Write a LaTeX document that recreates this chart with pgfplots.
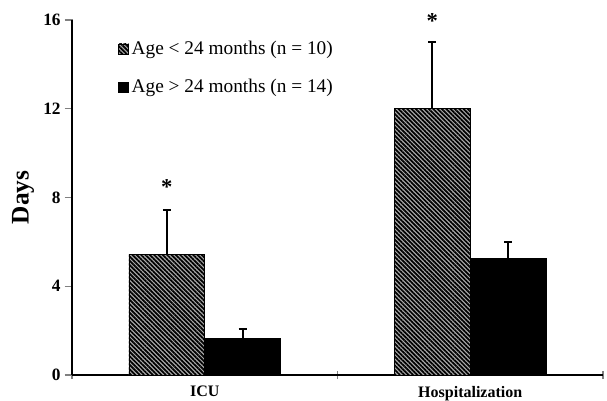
\documentclass[border=0pt]{standalone}
\usepackage{pgfplots}
\pgfplotsset{compat=1.18}
\usetikzlibrary{patterns.meta}
\usepackage{fontspec}
\setmainfont{Liberation Serif}

\begin{document}
\begin{tikzpicture}
\begin{axis}[
  scale only axis,
  width=398.25pt, height=266.25pt,
  ybar=0pt, bar width=0.286,
  xmin=0, xmax=2, ymin=0, ymax=16,
  axis x line*=bottom, axis y line*=left,
  axis line style={line width=0.9pt},
  xtick={0,1,2}, xticklabels={ICU,Hospitalization},
  x tick label as interval,
  tick align=center, major tick length=6pt,
  x tick style={line width=0.9pt},
  ytick={0,4,8,12,16},
  y tick style={xshift=-2.5pt, line width=0.9pt},
  tick pos=left,
  ticklabel style={font=\fontsize{12}{14}\selectfont\bfseries},
  yticklabel style={font=\fontsize{13}{15}\selectfont\bfseries, xshift=-2pt},
  xticklabel style={yshift=-2pt},
  /pgf/number format/assume math mode=true,
  ylabel={Days},
  ylabel style={font=\fontsize{19}{21}\selectfont\bfseries},
  legend style={at={(0.087,0.948)}, anchor=north west, draw=none, fill=none,
    font=\fontsize{14.5}{17}\selectfont, row sep=13pt, inner sep=0pt},
  legend cell align={left},
  legend image code/.code={\draw[#1] (0pt,-3.6pt) rectangle (7.5pt,3.9pt);},
  clip=false,
]
\addplot[draw=black, fill=gray!65,
  postaction={pattern={Lines[angle=-45,distance=2.3pt,line width=1.3pt]}, pattern color=black},
  error bars/.cd, y dir=plus, y explicit,
  error bar style={line width=1.5pt, black},
  error mark options={rotate=90, mark size=3pt, line width=1.5pt, black}]
  coordinates {(0.5,5.44) +- (0,2.0) (1.5,12.02) +- (0,3.0)};
\addlegendentry{Age < 24 months (n = 10)}
\addplot[draw=black, fill=black,
  error bars/.cd, y dir=plus, y explicit,
  error bar style={line width=1.5pt, black},
  error mark options={rotate=90, mark size=3pt, line width=1.5pt, black}]
  coordinates {(0.5,1.65) +- (0,0.41) (1.5,5.26) +- (0,0.72)};
\addlegendentry{Age > 24 months (n = 14)}
\node[font=\fontsize{17}{19}\selectfont\bfseries] at (axis cs:0.357,8.45) {*};
\node[font=\fontsize{17}{19}\selectfont\bfseries] at (axis cs:1.357,15.95) {*};
\coordinate (o) at (axis cs:0,0);
\end{axis}
\pgfresetboundingbox
\path[use as bounding box] (o) ++(-54pt,-18.75pt) rectangle ++(455.25pt,300pt);
\end{tikzpicture}
\end{document}
